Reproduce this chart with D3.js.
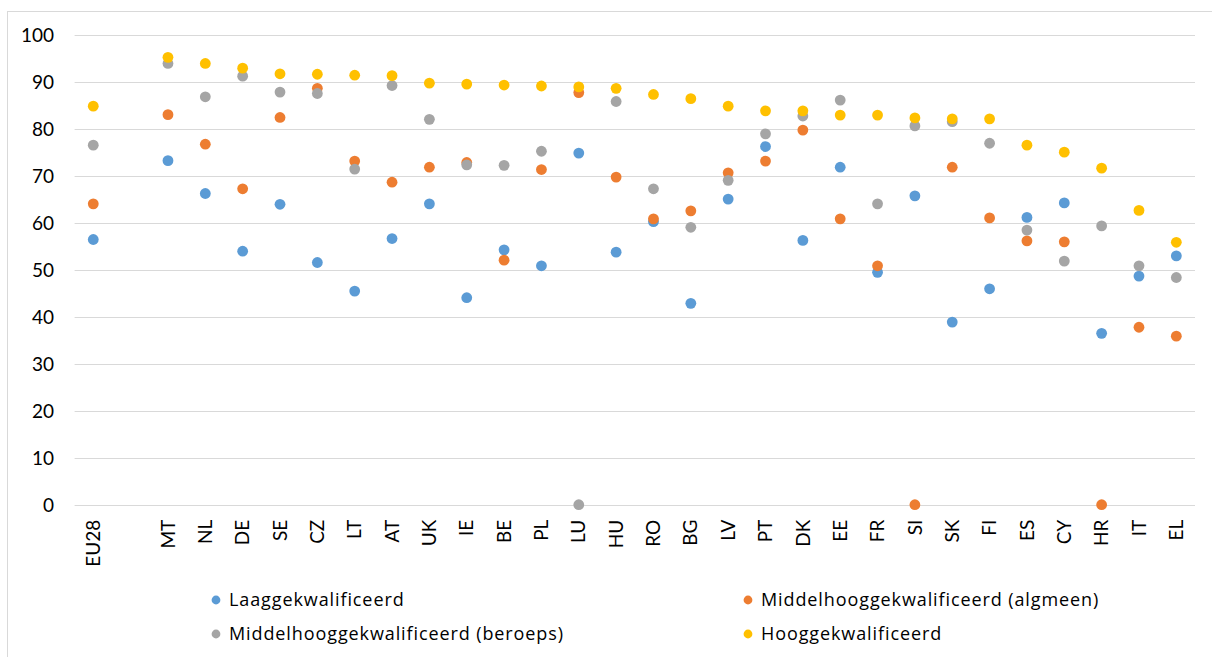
<!DOCTYPE html>
<html>
<head>
<meta charset="utf-8">
<script src="https://cdn.jsdelivr.net/npm/d3@7"></script>
<style>
html,body{margin:0;padding:0;background:#fff;}
svg{display:block;}
</style>
</head>
<body>
<svg id="chart" width="1212" height="657"></svg>
<script>
const categories = ["EU28","","MT","NL","DE","SE","CZ","LT","AT","UK","IE","BE","PL","LU","HU","RO","BG","LV","PT","DK","EE","FR","SI","SK","FI","ES","CY","HR","IT","EL"];
const laag     = [56.5,null,73.3,66.3,54.0,64.0,51.6,45.5,56.7,64.1,44.1,54.3,50.9,74.9,53.8,60.3,42.9,65.1,76.3,56.3,71.9,49.5,65.8,38.9,46.0,61.2,64.3,36.5,48.7,53.0];
const algmeen  = [64.1,null,83.1,76.8,67.3,82.5,88.7,73.2,68.7,71.9,72.9,52.1,71.4,87.8,69.8,60.9,62.6,70.7,73.2,79.8,60.9,50.9,0,71.9,61.1,56.2,56.0,0,37.8,35.9];
const beroeps  = [76.6,null,94.0,86.9,91.3,87.9,87.6,71.5,89.3,82.1,72.4,72.3,75.3,0,85.9,67.3,59.1,69.1,79.0,82.8,86.2,64.1,80.7,81.6,77.0,58.5,51.9,59.4,50.9,48.4];
const hoog     = [84.9,null,95.3,94.0,93.0,91.8,91.7,91.5,91.4,89.8,89.6,89.4,89.2,89.0,88.7,87.4,86.5,84.9,83.9,83.9,83.0,83.0,82.4,82.2,82.2,76.6,75.1,71.7,62.7,55.9];
const seriesNames = ["Laaggekwalificeerd","Middelhooggekwalificeerd (algmeen)","Middelhooggekwalificeerd (beroeps)","Hooggekwalificeerd"];
const seriesColors = ["#5B9BD5","#ED7D31","#A5A5A5","#FFC000"];
const yTicks = [0,10,20,30,40,50,60,70,80,90,100];

const seriesData = [laag, algmeen, beroeps, hoog];
const svg = d3.select("#chart");

// outer chart border
svg.append("rect").attr("x",7.5).attr("y",11.5).attr("width",1300).attr("height",700)
  .attr("fill","none").attr("stroke","#D9D9D9").attr("stroke-width",1);

const plotLeft = 74.6, plotRight = 1195, plotTop = 35.3, plotBottom = 504.7;
const x = d3.scaleBand().domain(categories.map((c,i)=>i)).range([plotLeft,plotRight]).padding(0);
const y = d3.scaleLinear().domain([0,100]).range([plotBottom,plotTop]);

// gridlines
svg.append("g").selectAll("line").data(yTicks).join("line")
  .attr("x1",plotLeft).attr("x2",plotRight)
  .attr("y1",d=>Math.round(y(d))+0.5).attr("y2",d=>Math.round(y(d))+0.5)
  .attr("stroke","#D9D9D9").attr("stroke-width",1);

// y axis labels
const yAxis = d3.axisLeft(y).tickValues(yTicks).tickSize(0).tickPadding(0);
const gy = svg.append("g").attr("transform",`translate(54,0)`).call(yAxis);
gy.select(".domain").remove();
gy.selectAll("text").style("font-size","19px").style("font-family","Lato").style("fill","#000").attr("dy","0.34em");

// x axis labels
const xAxis = d3.axisBottom(x).tickFormat(i=>categories[i]).tickSize(0).tickPadding(0);
const gx = svg.append("g").attr("transform",`translate(0,${plotBottom})`).call(xAxis);
gx.select(".domain").remove();
gx.selectAll("text")
  .style("font-size","19px").style("font-family","Lato").style("fill","#000")
  .attr("text-anchor","end")
  .attr("transform","rotate(-90)")
  .attr("x",-15).attr("y",0).attr("dy","0.35em");

// points
seriesData.forEach((arr,si)=>{
  svg.append("g").selectAll("circle")
    .data(arr.map((v,i)=>({i,v})).filter(d=>d.v!==null))
    .join("circle")
    .attr("cx",d=>x(d.i)+x.bandwidth()/2)
    .attr("cy",d=>y(d.v))
    .attr("r",5.4)
    .attr("fill",seriesColors[si]);
});

// legend
const legendPos = [[216,600],[748,600],[216,634],[748,634]];
const lg = svg.append("g").selectAll("g").data(seriesNames).join("g")
  .attr("transform",(d,i)=>`translate(${legendPos[i][0]},${legendPos[i][1]})`);
lg.append("circle").attr("r",4.4).attr("fill",(d,i)=>seriesColors[i]);
lg.append("text").attr("x",13).attr("dy","0.36em")
  .style("font-family","'Open Sans'").style("font-size","18px").style("letter-spacing","0.9px")
  .style("fill","#000").text(d=>d);
</script>
</body>
</html>
